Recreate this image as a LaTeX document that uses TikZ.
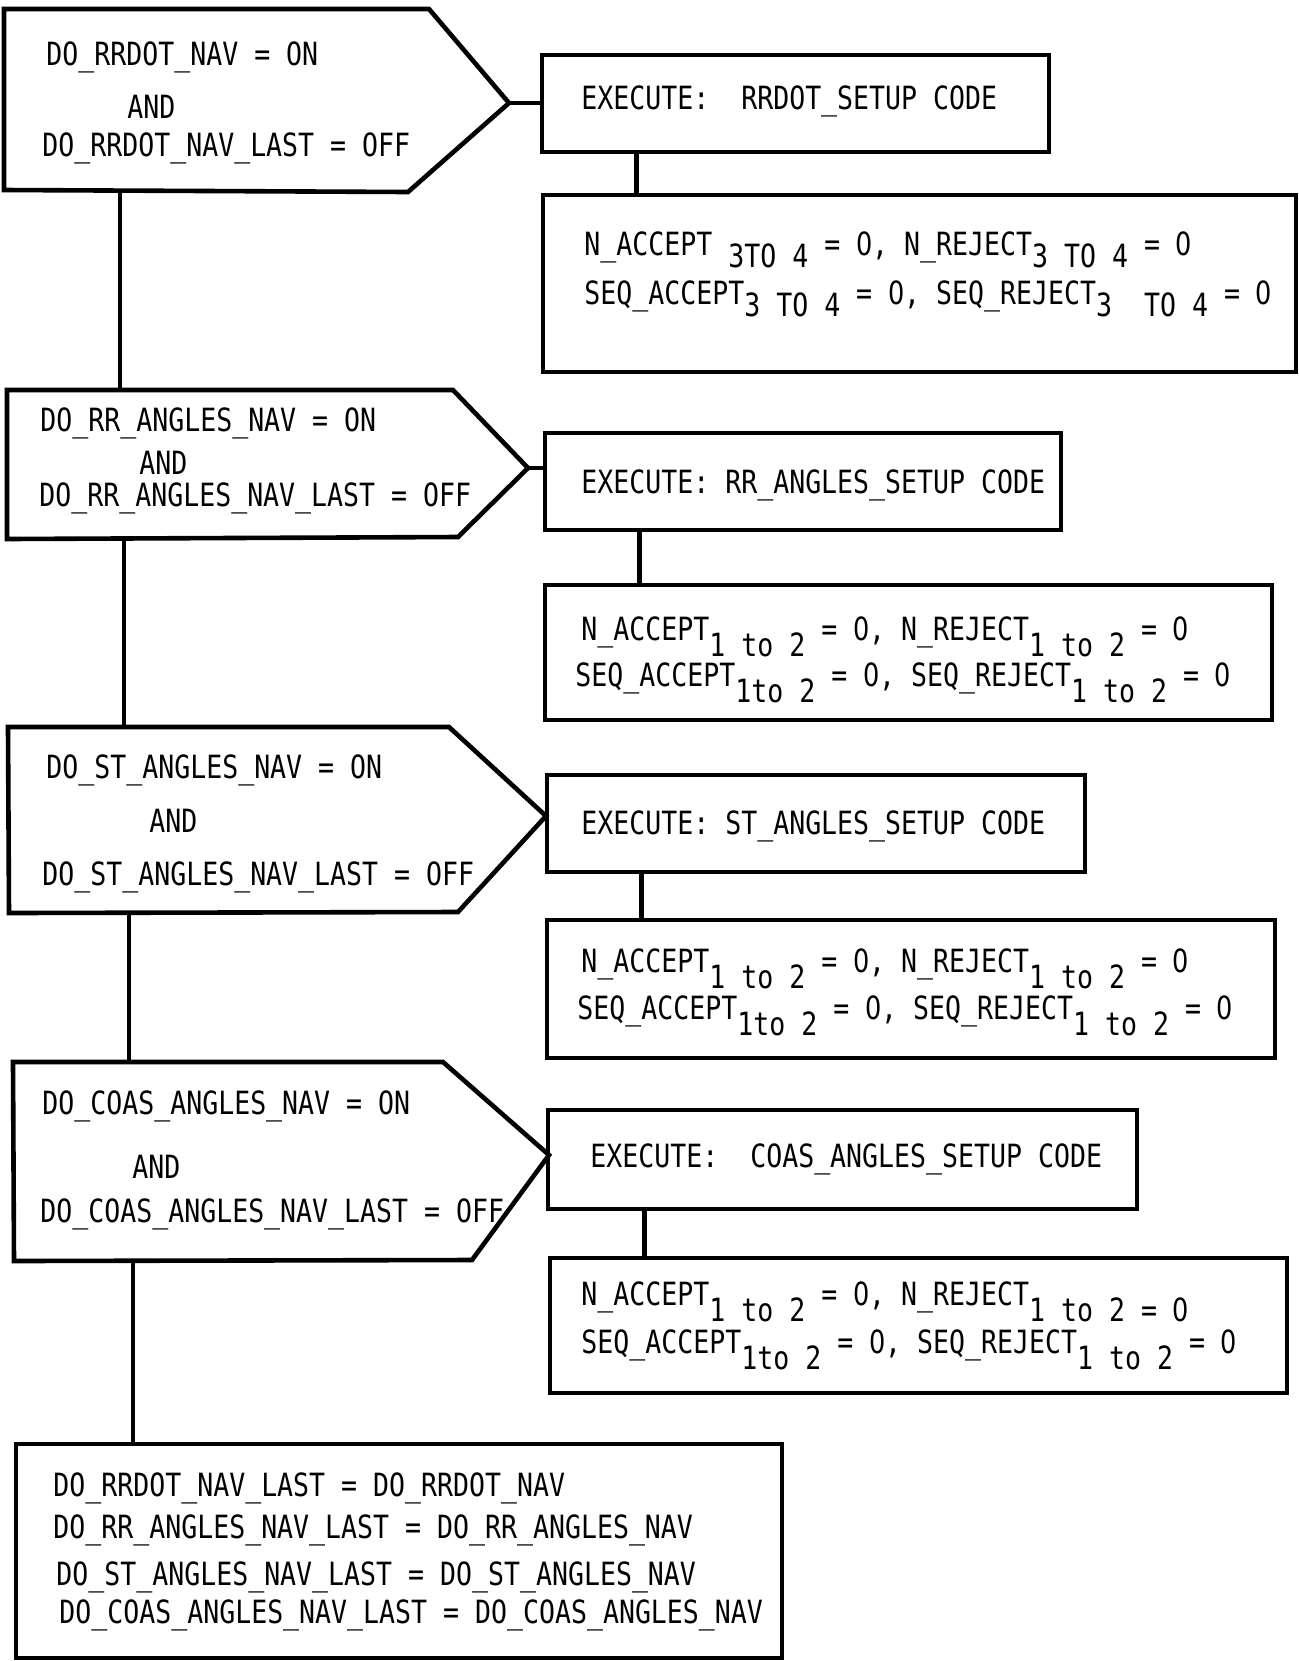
\documentclass[tikz,border=0pt]{standalone}
\usepackage{fontspec}
\newfontfamily\mono[FakeStretch=0.83]{DejaVu Sans Mono}
\newfontfamily\dvs[FakeStretch=0.80]{DejaVu Sans}
\usetikzlibrary{fit}
\newcommand\dnA[1]{\raisebox{-0.36em}{#1}}
\newcommand\dnB[1]{\raisebox{-0.48em}{#1}}
\newcommand\z{\makebox[0.4997em]{\dvs 0}}
\begin{document}
\begin{tikzpicture}[x=0.5pt,y=-0.5pt,
  frame/.style={draw, line width=2.3pt, line join=miter, inner sep=0pt},
  wire/.style={line width=2.3pt, line join=miter},
  txt/.style={anchor=west, inner sep=0pt, text height=11.7pt, text depth=0pt,
    font=\mono\fontsize{16}{19}\selectfont\frenchspacing},
]
\useasboundingbox[fill=white] (0,0) rectangle (1299,1661);

% ---------- decision shapes ----------
\coordinate (d1nw) at (4,9);     \coordinate (d1ne) at (429,9);
\coordinate (d1tip) at (509,103); \coordinate (d1se) at (408,192);
\coordinate (d1sw) at (4,190);
\draw[wire] (d1nw) -- (d1ne) -- (d1tip) -- (d1se) -- (d1sw) -- cycle;

\coordinate (d2nw) at (7,390);   \coordinate (d2ne) at (453,390);
\coordinate (d2tip) at (528,468); \coordinate (d2se) at (458,537);
\coordinate (d2sw) at (7,539);
\draw[wire] (d2nw) -- (d2ne) -- (d2tip) -- (d2se) -- (d2sw) -- cycle;

\coordinate (d3nw) at (8,727);   \coordinate (d3ne) at (449,727);
\coordinate (d3tip) at (546,816); \coordinate (d3se) at (458,912);
\coordinate (d3sw) at (9,913);
\draw[wire] (d3nw) -- (d3ne) -- (d3tip) -- (d3se) -- (d3sw) -- cycle;

\coordinate (d4nw) at (13,1062);  \coordinate (d4ne) at (443,1062);
\coordinate (d4tip) at (549,1155); \coordinate (d4se) at (472,1260);
\coordinate (d4sw) at (14,1261);
\draw[wire] (d4nw) -- (d4ne) -- (d4tip) -- (d4se) -- (d4sw) -- cycle;

% ---------- boxes ----------
\node[frame, fit={(542,55) (1049,152)}] (e1) {};
\node[frame, fit={(543,195) (1296,372)}] (a1) {};
\node[frame, fit={(545,433) (1061,530)}] (e2) {};
\node[frame, fit={(545,585) (1272,720)}] (a2) {};
\node[frame, fit={(547,775) (1085,872)}] (e3) {};
\node[frame, fit={(547,920) (1275,1058)}] (a3) {};
\node[frame, fit={(548,1110) (1137,1209)}] (e4) {};
\node[frame, fit={(550,1258) (1287,1393)}] (a4) {};
\node[frame, fit={(16,1444) (782,1658)}] (fin) {};

% ---------- connectors ----------
\coordinate (t1) at (120,191);
\coordinate (t2) at (124,539);
\coordinate (t3) at (129,913);
\coordinate (t4) at (133,1261);
\draw[wire] (t1) -- (t1 |- d2nw);
\draw[wire] (t2) -- (t2 |- d3nw);
\draw[wire] (t3) -- (t3 |- d4nw);
\draw[wire] (t4) -- (t4 |- fin.north);

\draw[wire] (d1tip) -- (d1tip -| e1.west);
\draw[wire] (d2tip) -- (d2tip -| e2.west);
\draw[wire] (d3tip) -- (d3tip -| e3.west);
\draw[wire] (d4tip) -- (d4tip -| e4.west);

\draw[wire] ([xshift=48.5pt]e1.south west) -- ([xshift=48.5pt]e1.south west |- a1.north);
\draw[wire] ([xshift=48.5pt]e2.south west) -- ([xshift=48.5pt]e2.south west |- a2.north);
\draw[wire] ([xshift=48.5pt]e3.south west) -- ([xshift=48.5pt]e3.south west |- a3.north);
\draw[wire] ([xshift=49.5pt]e4.south west) -- ([xshift=49.5pt]e4.south west |- a4.north);

% ---------- decision texts ----------
\node[txt] (c1a) at (46,54)  {DO\_RRDOT\_NAV = ON};
\node[txt] (c1b) at (127,107) {AND};
\node[txt] (c1c) at (42,145) {DO\_RRDOT\_NAV\_LAST = OFF};

\node[txt] (c2a) at (40,420) {DO\_RR\_ANGLES\_NAV = ON};
\node[txt] (c2b) at (139,463) {AND};
\node[txt] (c2c) at (39,495) {DO\_RR\_ANGLES\_NAV\_LAST = OFF};

\node[txt] (c3a) at (46,767) {DO\_ST\_ANGLES\_NAV = ON};
\node[txt] (c3b) at (149,821) {AND};
\node[txt] (c3c) at (42,874) {DO\_ST\_ANGLES\_NAV\_LAST = OFF};

\node[txt] (c4a) at (42,1103) {DO\_COAS\_ANGLES\_NAV = ON};
\node[txt] (c4b) at (132,1167) {AND};
\node[txt] (c4c) at (40,1211) {DO\_COAS\_ANGLES\_NAV\_LAST = OFF};

% ---------- execute texts ----------
\node[txt] (x1) at (581,98)  {EXECUTE:\ \ RRDOT\_SETUP CODE};
\node[txt] (x2) at (581,482) {EXECUTE: RR\_ANGLES\_SETUP CODE};
\node[txt] (x3) at (581,823) {EXECUTE: ST\_ANGLES\_SETUP CODE};
\node[txt] (x4) at (590,1156) {EXECUTE:\ \ COAS\_ANGLES\_SETUP CODE};

% ---------- counter texts ----------
\node[txt] (n1a) at (584,244) {N\_ACCEPT \dnA{3TO 4} = \z, N\_REJECT\dnA{3 TO 4} = \z};
\node[txt] (n1b) at (584,293) {SEQ\_ACCEPT\dnA{3 TO 4} = \z, SEQ\_REJECT\dnA{3\ \ TO 4} = \z};

\node[txt] (n2a) at (581,629) {N\_ACCEPT\dnB{1 to 2} = \z, N\_REJECT\dnB{1 to 2} = \z};
\node[txt] (n2b) at (575,675) {SEQ\_ACCEPT\dnB{1to 2} = \z, SEQ\_REJECT\dnB{1 to 2} = \z};

\node[txt] (n3a) at (581,961) {N\_ACCEPT\dnB{1 to 2} = \z, N\_REJECT\dnB{1 to 2} = \z};
\node[txt] (n3b) at (577,1008) {SEQ\_ACCEPT\dnB{1to 2} = \z, SEQ\_REJECT\dnB{1 to 2} = \z};

\node[txt] (n4a) at (581,1294) {N\_ACCEPT\dnB{1 to 2} = \z, N\_REJECT\dnB{1 to 2 = \z}};
\node[txt] (n4b) at (581,1342) {SEQ\_ACCEPT\dnB{1to 2} = \z, SEQ\_REJECT\dnB{1 to 2} = \z};

% ---------- final box texts ----------
\node[txt] (f1) at (53,1485) {DO\_RRDOT\_NAV\_LAST = DO\_RRDOT\_NAV};
\node[txt] (f2) at (53,1527) {DO\_RR\_ANGLES\_NAV\_LAST = DO\_RR\_ANGLES\_NAV};
\node[txt] (f3) at (56,1574) {DO\_ST\_ANGLES\_NAV\_LAST = DO\_ST\_ANGLES\_NAV};
\node[txt] (f4) at (59,1612) {DO\_COAS\_ANGLES\_NAV\_LAST = DO\_COAS\_ANGLES\_NAV};
\end{tikzpicture}
\end{document}
